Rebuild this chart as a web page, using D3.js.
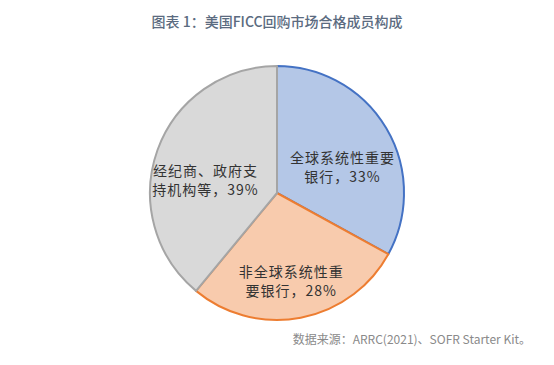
<!DOCTYPE html>
<html>
<head>
<meta charset="utf-8">
<script src="https://cdn.jsdelivr.net/npm/d3@7/dist/d3.min.js"></script>
<style>
  body { margin: 0; background: #fff; }
  svg { display: block; }
</style>
</head>
<body>
<div id="chart"></div>
<script>
// data
var categories = ["全球系统性重要银行", "非全球系统性重要银行", "经纪商、政府支持机构等"];
var values = [33, 28, 39];
var labelLines = [
  ["全球系统性重要", "银行，33%"],
  ["非全球系统性重", "要银行，28%"],
  ["经纪商、政府支", "持机构等，39%"]
];
var fills = ["#b4c7e7", "#f8cbad", "#d9d9d9"];
var strokes = ["#4472c4", "#ed7d31", "#a5a5a5"];

var width = 554, height = 365;
var cx = 277, cy = 193, radius = 127;

var svg = d3.select("#chart").append("svg")
  .attr("width", width)
  .attr("height", height);

// title
svg.append("text")
  .attr("x", cx)
  .attr("y", 27)
  .attr("text-anchor", "middle")
  .style("font-family", "'Noto Sans CJK SC', 'Noto Sans', sans-serif")
  .style("font-size", "14px")
  .style("font-weight", "500")
  .style("fill", "#5b6b80")
  .text("图表 1：美国FICC回购市场合格成员构成");

// pie
var pie = d3.pie().sort(null).value(function(d) { return d; });
var arc = d3.arc().innerRadius(0).outerRadius(radius);
var labelArc = d3.arc().innerRadius(76).outerRadius(76);

var g = svg.append("g")
  .attr("transform", "translate(" + cx + "," + cy + ")");

var slices = g.selectAll(".slice")
  .data(pie(values))
  .enter().append("g")
  .attr("class", "slice");

// later slices are drawn on top, so shared edges take the later colour
slices.append("path")
  .attr("d", arc)
  .style("fill", function(d, i) { return fills[i]; })
  .style("stroke", function(d, i) { return strokes[i]; })
  .style("stroke-width", 2)
  .style("stroke-linejoin", "round");

// labels
slices.append("text")
  .attr("transform", function(d) {
    var c = labelArc.centroid(d);
    return "translate(" + c[0] + "," + (c[1] + 13) + ")";
  })
  .attr("text-anchor", "middle")
  .style("font-family", "'Noto Sans CJK SC', sans-serif")
  .style("font-size", "14px")
  .style("letter-spacing", "1px")
  .style("fill", "#333")
  .selectAll("tspan")
  .data(function(d, i) { return labelLines[i]; })
  .enter().append("tspan")
  .attr("x", 0)
  .attr("y", function(d, i) { return i === 0 ? -4 : 15; })
  .text(function(d) { return d; });

// source
svg.append("text")
  .attr("x", 531)
  .attr("y", 344)
  .attr("text-anchor", "end")
  .style("font-family", "'Noto Sans CJK SC', 'Noto Sans', sans-serif")
  .style("font-size", "12px")
  .style("fill", "#8a8a8a")
  .text("数据来源：ARRC(2021)、SOFR Starter Kit。");
</script>
</body>
</html>
